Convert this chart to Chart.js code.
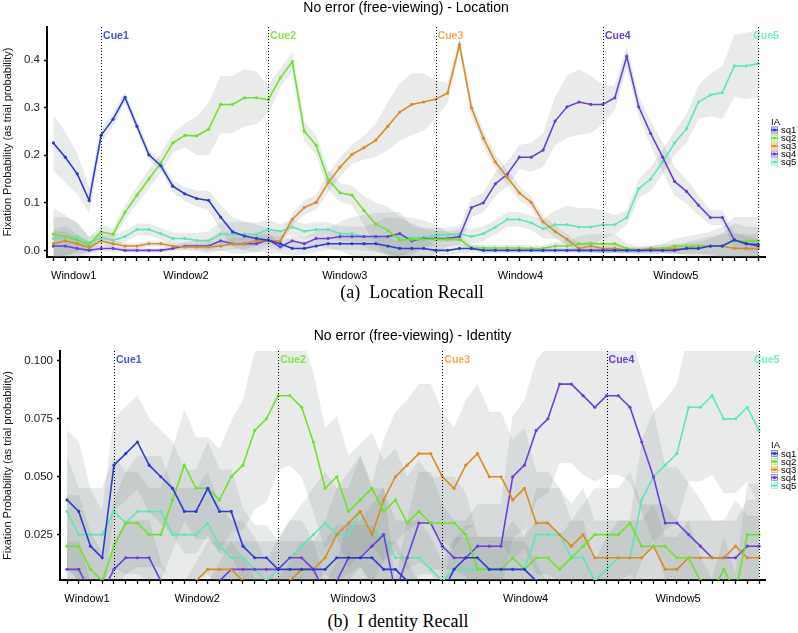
<!DOCTYPE html>
<html>
<head>
<meta charset="utf-8">
<title>No error (free-viewing)</title>
<script src="https://cdn.jsdelivr.net/npm/chart.js@4.4.0/dist/chart.umd.min.js"></script>
<style>
  body { margin: 0; background: #fff; width: 798px; height: 633px; position: relative; overflow: hidden; }
  .panel { position: absolute; left: 0; width: 798px; }
  .caption { position: absolute; font-family: "Liberation Serif", serif; font-size: 18px; color: #000;
             white-space: pre; transform: translate(-50%, -50%); }
</style>
</head>
<body>
<div class="panel" style="top:0;height:285px"><canvas id="loc"></canvas></div>
<div class="caption" style="left:412px;top:292px">(a)  Location Recall</div>
<div class="panel" style="top:300px;height:308px"><canvas id="ident"></canvas></div>
<div class="caption" style="left:398px;top:621px">(b)  I dentity Recall</div>

<script>
// ---- shared labels ----
const seriesNames = ['sq1', 'sq2', 'sq3', 'sq4', 'sq5'];
const seriesColors = ['#2b3bd3', '#6ee22a', '#d98c22', '#6b3fd8', '#5fe6b4'];
const cueNames = ['Cue1', 'Cue2', 'Cue3', 'Cue4', 'Cue5'];
const cueAt = [4, 18, 32, 46, 59];
const cueColors = ['#4656dc', '#7fe64a', '#f4aa55', '#6a40d8', '#72eec2'];
const windowNames = ['Window1', 'Window2', 'Window3', 'Window4', 'Window5'];
const windowAt = [1.7, 11.1, 24.4, 39.1, 52.1];

// ---- (a) Location: mean fixation probability per time bin ----
const locSq1 = [0.226, 0.196, 0.161, 0.105, 0.242, 0.276, 0.322, 0.261, 0.201, 0.178,
                0.135, 0.119, 0.109, 0.105, 0.070, 0.039, 0.030, 0.025, 0.021, 0.014,
                0.004, 0.004, 0.009, 0.014, 0.014, 0.014, 0.014, 0.014, 0.009, 0.004,
                0.004, 0.004, 0.000, 0.000, 0.004, 0.004, 0.000, 0.000, 0.000, 0.000,
                0.000, 0.000, 0.000, 0.000, 0.000, 0.000, 0.000, 0.000, 0.000, 0.000,
                0.000, 0.000, 0.000, 0.004, 0.004, 0.009, 0.009, 0.022, 0.014, 0.012];
const locSq2 = [0.034, 0.029, 0.022, 0.012, 0.039, 0.034, 0.080, 0.116, 0.150, 0.184,
                0.226, 0.242, 0.241, 0.255, 0.307, 0.307, 0.321, 0.321, 0.317, 0.363,
                0.397, 0.251, 0.221, 0.149, 0.121, 0.116, 0.084, 0.055, 0.042, 0.022,
                0.023, 0.023, 0.023, 0.023, 0.023, 0.005, 0.005, 0.005, 0.005, 0.005,
                0.004, 0.004, 0.009, 0.009, 0.014, 0.014, 0.014, 0.014, 0.004, 0.000,
                0.000, 0.004, 0.009, 0.009, 0.009, 0.009, 0.009, 0.020, 0.020, 0.020];
const locSq3 = [0.014, 0.020, 0.014, 0.006, 0.020, 0.014, 0.009, 0.009, 0.014, 0.014,
                0.009, 0.007, 0.007, 0.007, 0.009, 0.014, 0.014, 0.020, 0.021, 0.020,
                0.065, 0.090, 0.101, 0.142, 0.175, 0.202, 0.216, 0.232, 0.261, 0.291,
                0.307, 0.312, 0.318, 0.331, 0.433, 0.300, 0.236, 0.186, 0.154, 0.121,
                0.101, 0.060, 0.040, 0.023, 0.004, 0.009, 0.004, 0.004, 0.000, 0.000,
                0.004, 0.004, 0.004, 0.004, 0.009, 0.009, 0.009, 0.004, 0.004, 0.004];
const locSq4 = [0.009, 0.009, 0.004, 0.000, 0.004, 0.004, 0.000, 0.000, 0.000, 0.000,
                0.004, 0.009, 0.009, 0.009, 0.020, 0.014, 0.014, 0.014, 0.022, 0.007,
                0.020, 0.014, 0.025, 0.025, 0.029, 0.029, 0.029, 0.029, 0.029, 0.035,
                0.020, 0.025, 0.025, 0.025, 0.029, 0.090, 0.100, 0.140, 0.160, 0.196,
                0.196, 0.211, 0.272, 0.302, 0.312, 0.307, 0.307, 0.321, 0.408, 0.302,
                0.246, 0.196, 0.145, 0.124, 0.095, 0.069, 0.069, 0.022, 0.014, 0.009];
const locSq5 = [0.025, 0.029, 0.029, 0.016, 0.027, 0.021, 0.029, 0.044, 0.044, 0.035,
                0.025, 0.025, 0.021, 0.020, 0.034, 0.034, 0.034, 0.034, 0.044, 0.040,
                0.049, 0.040, 0.044, 0.044, 0.035, 0.035, 0.029, 0.029, 0.029, 0.027,
                0.027, 0.027, 0.032, 0.033, 0.035, 0.029, 0.035, 0.049, 0.065, 0.065,
                0.058, 0.045, 0.054, 0.054, 0.049, 0.049, 0.054, 0.054, 0.069, 0.130,
                0.150, 0.186, 0.226, 0.256, 0.312, 0.327, 0.332, 0.388, 0.388, 0.393];
// half-width of the grey band around each line
const locSe1 = [0.058, 0.052, 0.042, 0.026, 0.014, 0.012, 0.010, 0.010, 0.010, 0.010,
                0.012, 0.014, 0.016, 0.020, 0.025, 0.030, 0.030, 0.028, 0.025, 0.020,
                0.015, 0.012, 0.012, 0.012, 0.012, 0.012, 0.014, 0.016, 0.016, 0.016,
                0.016, 0.016, 0.012, 0.010, 0.010, 0.008, 0.006, 0.006, 0.005, 0.005,
                0.005, 0.005, 0.005, 0.005, 0.005, 0.005, 0.005, 0.005, 0.005, 0.005,
                0.006, 0.006, 0.008, 0.010, 0.012, 0.015, 0.025, 0.035, 0.035, 0.035];
const locSe2 = [0.055, 0.045, 0.035, 0.015, 0.015, 0.012, 0.015, 0.018, 0.020, 0.020,
                0.020, 0.025, 0.040, 0.055, 0.060, 0.060, 0.060, 0.055, 0.030, 0.020,
                0.020, 0.020, 0.020, 0.020, 0.020, 0.020, 0.030, 0.045, 0.050, 0.050,
                0.045, 0.040, 0.030, 0.015, 0.010, 0.006, 0.006, 0.006, 0.006, 0.006,
                0.006, 0.006, 0.008, 0.010, 0.015, 0.020, 0.020, 0.020, 0.010, 0.008,
                0.008, 0.010, 0.015, 0.020, 0.025, 0.030, 0.040, 0.050, 0.050, 0.050];
const locSe3 = [0.030, 0.030, 0.020, 0.010, 0.010, 0.008, 0.006, 0.006, 0.006, 0.006,
                0.006, 0.006, 0.006, 0.008, 0.010, 0.012, 0.012, 0.010, 0.008, 0.008,
                0.012, 0.015, 0.015, 0.020, 0.020, 0.020, 0.025, 0.035, 0.050, 0.060,
                0.065, 0.060, 0.040, 0.020, 0.012, 0.015, 0.015, 0.015, 0.015, 0.015,
                0.012, 0.012, 0.012, 0.012, 0.010, 0.010, 0.010, 0.008, 0.006, 0.006,
                0.006, 0.008, 0.010, 0.012, 0.015, 0.020, 0.025, 0.030, 0.030, 0.030];
const locSe4 = [0.030, 0.030, 0.020, 0.008, 0.006, 0.006, 0.004, 0.004, 0.004, 0.004,
                0.005, 0.008, 0.010, 0.015, 0.020, 0.020, 0.020, 0.018, 0.015, 0.008,
                0.012, 0.012, 0.015, 0.020, 0.030, 0.040, 0.045, 0.050, 0.050, 0.045,
                0.030, 0.020, 0.015, 0.015, 0.015, 0.020, 0.020, 0.025, 0.025, 0.025,
                0.030, 0.035, 0.050, 0.065, 0.068, 0.060, 0.040, 0.025, 0.020, 0.020,
                0.025, 0.030, 0.030, 0.025, 0.020, 0.015, 0.015, 0.015, 0.015, 0.015];
const locSe5 = [0.045, 0.040, 0.030, 0.012, 0.012, 0.012, 0.012, 0.012, 0.012, 0.012,
                0.012, 0.012, 0.015, 0.020, 0.025, 0.025, 0.025, 0.025, 0.020, 0.015,
                0.015, 0.015, 0.015, 0.015, 0.015, 0.015, 0.020, 0.030, 0.040, 0.040,
                0.030, 0.020, 0.015, 0.015, 0.015, 0.015, 0.015, 0.015, 0.015, 0.015,
                0.015, 0.020, 0.030, 0.040, 0.040, 0.040, 0.030, 0.020, 0.015, 0.020,
                0.025, 0.025, 0.025, 0.030, 0.035, 0.045, 0.055, 0.065, 0.070, 0.070];

// ---- (b) Identity ----
const idSq1 = [0.040, 0.035, 0.020, 0.015, 0.055, 0.060, 0.065, 0.055, 0.050, 0.045,
               0.035, 0.035, 0.045, 0.035, 0.035, 0.020, 0.015, 0.015, 0.010, 0.010,
               0.010, 0.010, 0.010, 0.015, 0.015, 0.015, 0.015, 0.010, 0.010, 0.005,
               0.000, 0.000, 0.000, 0.010, 0.015, 0.015, 0.010, 0.010, 0.010, 0.010,
               0.005, 0.000, 0.000, 0.000, 0.000, 0.000, 0.000, 0.000, 0.000, 0.000,
               0.000, 0.000, 0.000, 0.000, 0.000, 0.000, 0.000, 0.000, 0.000, 0.000];
const idSq2 = [0.020, 0.020, 0.010, 0.005, 0.020, 0.030, 0.030, 0.025, 0.025, 0.040,
               0.055, 0.045, 0.045, 0.040, 0.050, 0.055, 0.070, 0.075, 0.085, 0.085,
               0.080, 0.065, 0.045, 0.050, 0.035, 0.040, 0.045, 0.035, 0.040, 0.030,
               0.035, 0.030, 0.030, 0.030, 0.025, 0.010, 0.010, 0.010, 0.015, 0.010,
               0.015, 0.015, 0.010, 0.015, 0.020, 0.025, 0.025, 0.025, 0.030, 0.020,
               0.020, 0.020, 0.015, 0.015, 0.005, 0.000, 0.010, 0.000, 0.025, 0.025];
const idSq3 = [0.000, 0.000, 0.000, 0.000, 0.000, 0.000, 0.000, 0.000, 0.000, 0.000,
               0.000, 0.005, 0.010, 0.010, 0.010, 0.005, 0.000, 0.000, 0.000, 0.005,
               0.010, 0.010, 0.015, 0.025, 0.030, 0.035, 0.025, 0.040, 0.050, 0.055,
               0.060, 0.060, 0.050, 0.045, 0.055, 0.060, 0.050, 0.050, 0.040, 0.045,
               0.030, 0.030, 0.025, 0.020, 0.025, 0.015, 0.015, 0.015, 0.015, 0.015,
               0.020, 0.010, 0.010, 0.015, 0.015, 0.015, 0.015, 0.020, 0.015, 0.015];
const idSq4 = [0.010, 0.010, 0.000, 0.000, 0.010, 0.015, 0.015, 0.015, 0.005, 0.000,
               0.000, 0.000, 0.000, 0.005, 0.010, 0.010, 0.010, 0.010, 0.010, 0.015,
               0.015, 0.010, 0.000, 0.005, 0.015, 0.015, 0.020, 0.025, 0.000, 0.015,
               0.030, 0.030, 0.020, 0.015, 0.015, 0.020, 0.020, 0.020, 0.050, 0.055,
               0.070, 0.075, 0.090, 0.090, 0.085, 0.080, 0.085, 0.085, 0.080, 0.065,
               0.050, 0.030, 0.030, 0.025, 0.020, 0.015, 0.015, 0.015, 0.020, 0.020];
const idSq5 = [0.035, 0.025, 0.025, 0.025, 0.035, 0.030, 0.035, 0.035, 0.035, 0.025,
               0.025, 0.025, 0.030, 0.020, 0.015, 0.015, 0.010, 0.005, 0.010, 0.015,
               0.020, 0.025, 0.030, 0.025, 0.025, 0.035, 0.025, 0.025, 0.015, 0.015,
               0.015, 0.010, 0.005, 0.010, 0.010, 0.010, 0.010, 0.010, 0.010, 0.010,
               0.025, 0.025, 0.025, 0.015, 0.015, 0.005, 0.010, 0.015, 0.015, 0.040,
               0.050, 0.055, 0.060, 0.080, 0.080, 0.085, 0.075, 0.075, 0.080, 0.070];
const idSe1 = [0.030, 0.030, 0.024, 0.020, 0.020, 0.020, 0.020, 0.020, 0.020, 0.020,
               0.018, 0.018, 0.020, 0.018, 0.018, 0.016, 0.014, 0.014, 0.012, 0.012,
               0.012, 0.012, 0.012, 0.014, 0.014, 0.014, 0.014, 0.012, 0.012, 0.008,
               0.004, 0.004, 0.004, 0.012, 0.014, 0.014, 0.012, 0.012, 0.012, 0.012,
               0.008, 0.003, 0.003, 0.003, 0.003, 0.003, 0.003, 0.003, 0.003, 0.003,
               0.003, 0.003, 0.003, 0.003, 0.003, 0.003, 0.003, 0.003, 0.003, 0.003];
const idSe2 = [0.022, 0.022, 0.016, 0.012, 0.020, 0.022, 0.022, 0.020, 0.020, 0.022,
               0.024, 0.022, 0.022, 0.022, 0.024, 0.028, 0.034, 0.036, 0.032, 0.030,
               0.030, 0.030, 0.026, 0.026, 0.024, 0.024, 0.024, 0.022, 0.022, 0.020,
               0.022, 0.020, 0.020, 0.020, 0.018, 0.014, 0.014, 0.014, 0.016, 0.014,
               0.016, 0.016, 0.014, 0.016, 0.018, 0.020, 0.020, 0.020, 0.022, 0.018,
               0.018, 0.018, 0.016, 0.016, 0.010, 0.006, 0.014, 0.008, 0.022, 0.022];
const idSe3 = [0.004, 0.004, 0.004, 0.004, 0.004, 0.004, 0.004, 0.004, 0.004, 0.004,
               0.004, 0.008, 0.012, 0.012, 0.012, 0.010, 0.006, 0.006, 0.006, 0.008,
               0.012, 0.012, 0.016, 0.020, 0.022, 0.024, 0.022, 0.026, 0.028, 0.028,
               0.030, 0.030, 0.028, 0.026, 0.028, 0.030, 0.028, 0.028, 0.026, 0.026,
               0.022, 0.022, 0.020, 0.018, 0.020, 0.016, 0.016, 0.016, 0.016, 0.016,
               0.018, 0.014, 0.014, 0.016, 0.016, 0.016, 0.016, 0.020, 0.018, 0.018];
const idSe4 = [0.012, 0.012, 0.004, 0.004, 0.012, 0.016, 0.016, 0.016, 0.008, 0.004,
               0.004, 0.004, 0.004, 0.008, 0.012, 0.012, 0.012, 0.012, 0.012, 0.016,
               0.016, 0.012, 0.004, 0.008, 0.016, 0.016, 0.018, 0.020, 0.004, 0.016,
               0.022, 0.022, 0.018, 0.016, 0.016, 0.018, 0.018, 0.018, 0.026, 0.028,
               0.030, 0.032, 0.034, 0.034, 0.034, 0.032, 0.034, 0.034, 0.032, 0.030,
               0.028, 0.024, 0.024, 0.022, 0.020, 0.016, 0.016, 0.016, 0.020, 0.020];
const idSe5 = [0.024, 0.020, 0.020, 0.020, 0.024, 0.022, 0.024, 0.024, 0.024, 0.020,
               0.020, 0.020, 0.022, 0.018, 0.016, 0.016, 0.014, 0.008, 0.014, 0.016,
               0.018, 0.020, 0.022, 0.020, 0.020, 0.024, 0.020, 0.020, 0.016, 0.016,
               0.016, 0.014, 0.008, 0.014, 0.014, 0.014, 0.014, 0.014, 0.014, 0.014,
               0.020, 0.020, 0.020, 0.016, 0.016, 0.008, 0.014, 0.016, 0.016, 0.026,
               0.028, 0.028, 0.030, 0.032, 0.032, 0.034, 0.032, 0.032, 0.032, 0.032];

const ribbonFill = 'rgba(110, 122, 122, 0.15)';
const FONT = '"Liberation Sans", Arial, sans-serif';

function fade(hex, a) {
  const n = parseInt(hex.slice(1), 16);
  return `rgba(${n >> 16}, ${(n >> 8) & 255}, ${n & 255}, ${a})`;
}

function buildDatasets(values, errors) {
  const sets = [];
  values.forEach((vals, k) => {
    const edge = fade(seriesColors[k], 0.06);
    sets.push({
      data: vals.map((v, i) => ({x: i, y: v - errors[k][i]})),
      borderColor: edge, borderWidth: 0.8, pointRadius: 0, fill: false, order: 2
    });
    sets.push({
      data: vals.map((v, i) => ({x: i, y: v + errors[k][i]})),
      borderColor: edge, borderWidth: 0.8, pointRadius: 0,
      fill: '-1', backgroundColor: ribbonFill, order: 2
    });
  });
  values.forEach((vals, k) => {
    sets.push({
      label: seriesNames[k],
      data: vals.map((v, i) => ({x: i, y: v})),
      borderColor: seriesColors[k], backgroundColor: seriesColors[k],
      borderWidth: 1.6, pointRadius: 1.6, pointBorderWidth: 0, fill: false, order: 1
    });
  });
  return sets;
}

// title, cue markers, window names and the IA legend
const decorations = {
  id: 'decorations',
  afterDatasetsDraw(chart) {
    const {ctx, chartArea: a, scales: {x}} = chart;
    ctx.save();
    ctx.strokeStyle = '#000';
    ctx.lineWidth = 1;
    ctx.setLineDash([1, 2]);
    cueAt.forEach(c => {
      const px = Math.round(x.getPixelForValue(c)) + 0.5;
      ctx.beginPath();
      ctx.moveTo(px, a.top);
      ctx.lineTo(px, a.bottom);
      ctx.stroke();
    });
    ctx.setLineDash([]);
    ctx.font = `bold 10.5px ${FONT}`;
    ctx.textBaseline = 'middle';
    ctx.textAlign = 'left';
    cueNames.forEach((name, k) => {
      const px = x.getPixelForValue(cueAt[k]);
      ctx.fillStyle = cueColors[k];
      ctx.fillText(name, k === cueNames.length - 1 ? px - 5 : px + 2, a.top + 9);
    });
    ctx.restore();
  },
  afterDraw(chart, args, opts) {
    const {ctx, chartArea: a, scales: {x}} = chart;
    ctx.save();
    ctx.fillStyle = '#000';
    ctx.textBaseline = 'middle';
    ctx.textAlign = 'center';
    ctx.font = `14px ${FONT}`;
    ctx.fillText(opts.title, (a.left + a.right) / 2, opts.titleY);
    ctx.font = `11px ${FONT}`;
    windowNames.forEach((name, k) => {
      ctx.fillText(name, x.getPixelForValue(windowAt[k]), a.bottom + 19);
    });
    // legend
    const mid = (a.top + a.bottom) / 2;
    const lx = a.right + 6;
    ctx.textAlign = 'left';
    ctx.font = `9.5px ${FONT}`;
    ctx.fillText('IA', lx, mid - 20);
    seriesNames.forEach((name, k) => {
      const y = mid - 12 + k * 8;
      const col = seriesColors[k];
      ctx.fillStyle = fade(col, 0.22);
      ctx.fillRect(lx, y - 3.5, 7, 7);
      ctx.strokeStyle = fade(col, 0.5);
      ctx.lineWidth = 0.8;
      ctx.strokeRect(lx + 0.4, y - 3.1, 6.2, 6.2);
      ctx.strokeStyle = col;
      ctx.lineWidth = 1.4;
      ctx.beginPath();
      ctx.moveTo(lx, y);
      ctx.lineTo(lx + 7, y);
      ctx.stroke();
      ctx.fillStyle = col;
      ctx.beginPath();
      ctx.arc(lx + 3.5, y, 1.5, 0, Math.PI * 2);
      ctx.fill();
      ctx.fillStyle = '#000';
      ctx.fillText(name, lx + 10, y + 0.5);
    });
    ctx.restore();
  }
};

function makeChart(id, values, errors, p) {
  const idx = values[0].map((_, i) => i);
  const ctx = document.getElementById(id).getContext('2d');
  return new Chart(ctx, {
    type: 'line',
    data: { datasets: buildDatasets(values, errors) },
    plugins: [decorations],
    options: {
      responsive: true,
      maintainAspectRatio: false,
      animation: false,
      layout: { padding: { top: p.top, right: 33, left: 0, bottom: 0 } },
      elements: { line: { tension: 0 } },
      plugins: {
        legend: { display: false },
        tooltip: { enabled: false },
        decorations: { title: p.title, titleY: p.titleY }
      },
      scales: {
        x: {
          type: 'linear', min: p.xMin, max: p.xMax,
          afterBuildTicks: s => { s.ticks = idx.map(v => ({value: v})); },
          ticks: { callback: () => '', autoSkip: false, maxRotation: 0, padding: 0 },
          grid: { drawOnChartArea: false, drawTicks: true, tickLength: 4, tickColor: '#000', tickWidth: 1.3 },
          border: { display: true, color: '#000', width: 2 },
          afterFit: s => { s.height = 28; }
        },
        y: {
          min: p.yMin, max: p.yMax,
          ticks: {
            stepSize: p.yStep, includeBounds: false, padding: 4, color: '#222',
            font: { family: FONT, size: 11.5 },
            callback: v => v.toFixed(p.digits)
          },
          grid: { drawOnChartArea: false, tickLength: 3, tickColor: '#000', tickWidth: 1.3 },
          border: { display: true, color: '#000', width: 2 },
          title: {
            display: true, text: 'Fixation Probability (as trial probability)', color: '#111',
            font: { family: FONT, size: 11 }, padding: { top: 1, bottom: 0 }
          },
          afterFit: s => { s.width = p.yWidth; }
        }
      }
    }
  });
}

makeChart('loc', [locSq1, locSq2, locSq3, locSq4, locSq5], [locSe1, locSe2, locSe3, locSe4, locSe5], {
  title: 'No error (free-viewing) - Location', titleY: 8.5, top: 27,
  xMin: -0.53, xMax: 59.57, yMin: -0.014, yMax: 0.47, yStep: 0.1, digits: 1, yWidth: 47
});
makeChart('ident', [idSq1, idSq2, idSq3, idSq4, idSq5], [idSe1, idSe2, idSe3, idSe4, idSe5], {
  title: 'No error (free-viewing) - Identity', titleY: 36, top: 51,
  xMin: -0.6, xMax: 59.51, yMin: 0.0054, yMax: 0.1043, yStep: 0.025, digits: 3, yWidth: 60
});
</script>
</body>
</html>
